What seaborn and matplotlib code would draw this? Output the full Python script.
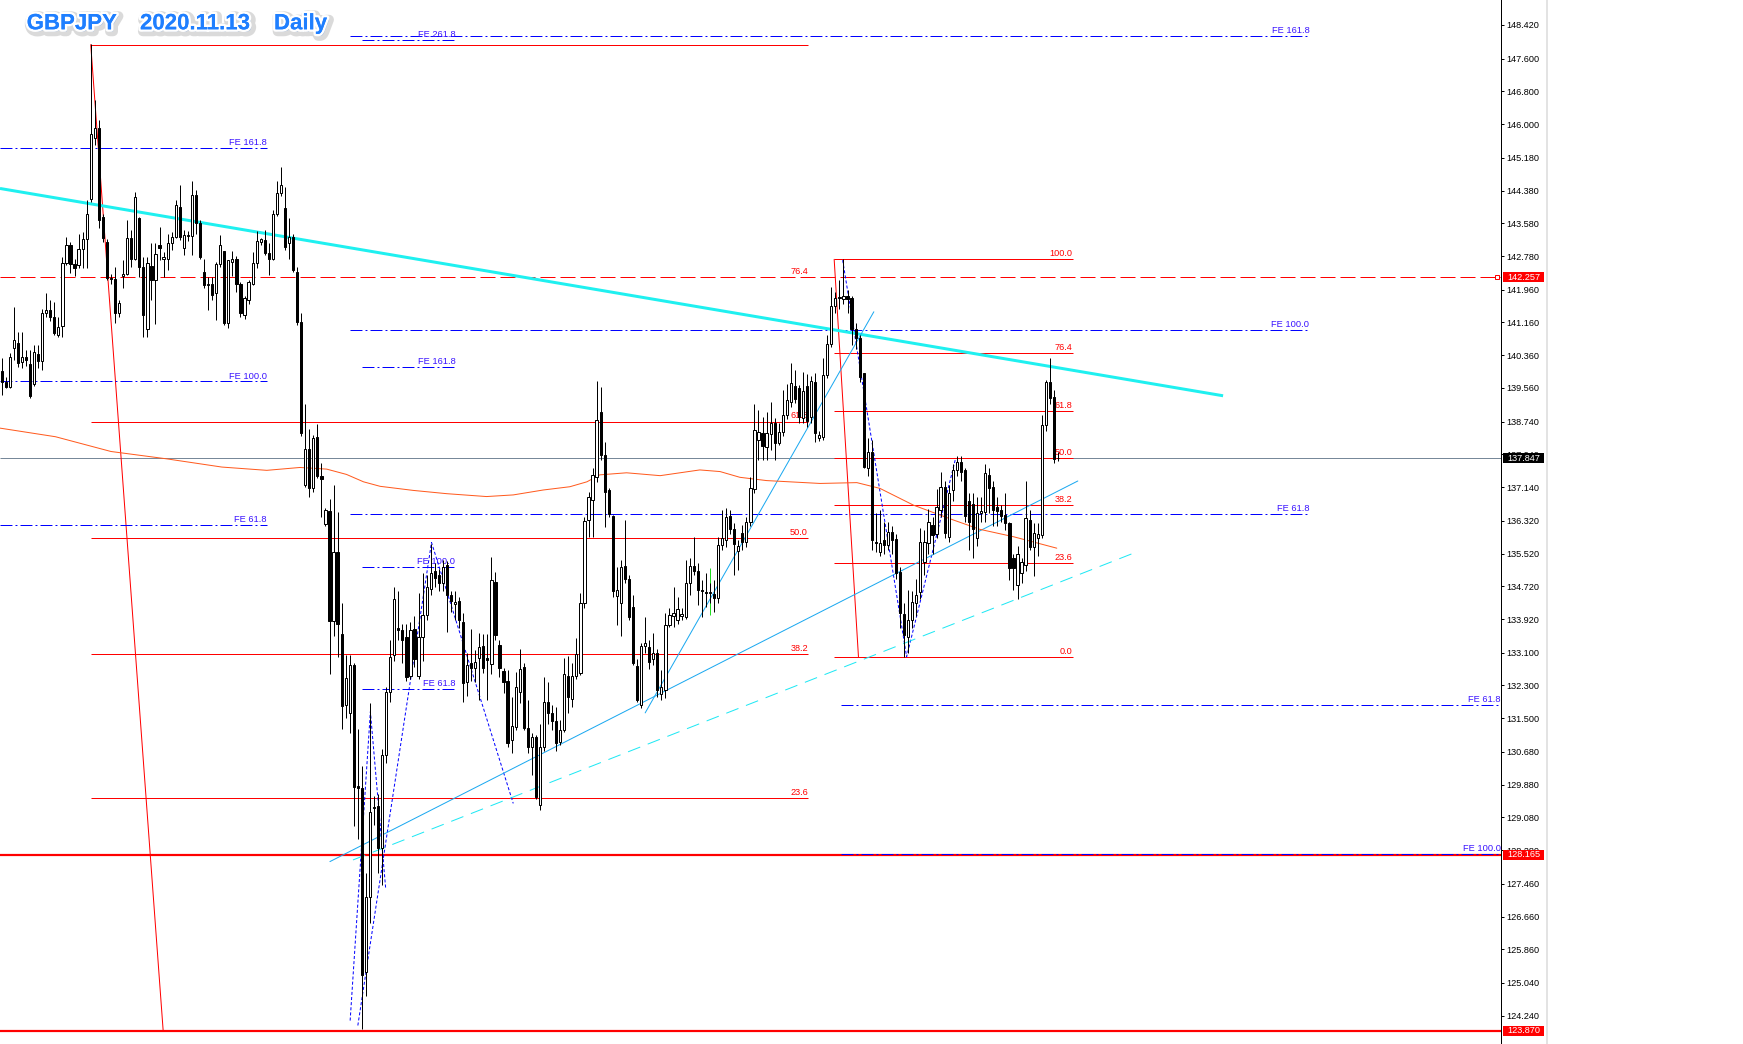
import numpy as np
import pandas as pd
import seaborn as sns
import matplotlib.pyplot as plt
import matplotlib.patheffects as pe
from matplotlib.patches import Rectangle
from matplotlib.lines import Line2D
from matplotlib.transforms import blended_transform_factory

# ---- daily candles GBPJPY ----
opens = [
    139.98, 139.71, 139.59, 140.54, 140.67, 140.20, 140.31, 140.14, 139.65, 140.40,
    140.23, 141.38, 141.46, 141.30, 140.85, 141.08, 142.60, 143.05, 142.58, 142.55,
    142.95, 143.19, 144.17, 145.65, 145.90, 143.74, 143.13, 142.24, 142.21, 141.38,
    142.30, 142.34, 143.21, 142.72, 143.70, 142.52, 140.99, 142.54, 142.19, 143.05,
    142.72, 142.72, 143.09, 143.25, 143.97, 142.97, 143.28, 143.28, 144.27, 143.58,
    142.40, 142.07, 142.09, 141.87, 142.58, 142.90, 141.14, 142.64, 142.72, 142.11,
    141.34, 141.71, 142.11, 142.60, 143.12, 143.17, 142.85, 142.72, 143.81, 144.31,
    143.95, 143.09, 143.25, 142.40, 141.16, 137.19, 138.06, 137.13, 138.36, 137.41,
    136.24, 136.56, 133.88, 135.56, 133.55, 131.83, 131.63, 132.80, 129.84, 129.79,
    125.31, 127.13, 129.34, 129.36, 128.34, 130.59, 132.13, 133.05, 133.70, 133.65,
    133.47, 132.53, 133.67, 132.53, 133.47, 134.03, 134.66, 135.10, 135.00, 134.80,
    135.25, 134.50, 134.28, 134.35, 133.84, 132.39, 132.84, 132.72, 132.96, 133.26,
    132.96, 132.82, 134.83, 133.29, 132.64, 132.41, 130.98, 131.29, 132.15, 132.74,
    131.25, 130.80, 131.05, 129.38, 130.80, 131.90, 131.62, 131.43, 130.93, 131.21,
    132.53, 131.98, 132.53, 132.61, 134.30, 136.34, 136.82, 137.39, 138.98, 137.92,
    137.07, 136.44, 134.48, 134.30, 135.21, 134.89, 134.21, 132.77, 131.82, 133.26,
    133.23, 132.94, 133.08, 132.10, 132.20, 133.77, 134.00, 133.90, 134.00, 133.97,
    134.81, 135.21, 135.10, 134.63, 134.57, 134.55, 134.53, 134.43, 135.73, 135.85,
    136.44, 136.11, 135.59, 136.01, 135.81, 136.30, 137.09, 138.29, 138.47, 138.13,
    138.44, 138.71, 138.21, 138.49, 138.90, 139.22, 139.62, 139.55, 138.82, 139.60,
    138.85, 139.71, 138.33, 138.37, 139.87, 140.63, 141.56, 141.75, 141.72, 141.80,
    141.75, 141.00, 140.77, 139.92, 137.60, 138.00, 135.81, 135.56, 135.85, 135.73,
    136.05, 135.87, 135.08, 134.04, 133.49, 133.90, 134.30, 134.59, 135.32, 135.77,
    136.22, 136.00, 136.58, 137.15, 135.93, 137.07, 137.56, 137.76, 137.56, 136.79,
    136.74, 135.89, 136.52, 136.54, 137.44, 137.15, 136.66, 136.58, 136.46, 136.26,
    135.40, 134.75, 135.04, 135.24, 136.34, 135.69, 135.89, 135.97, 138.66, 139.71,
    139.35, 137.84]
highs = [
    140.28, 139.83, 140.41, 141.54, 140.93, 140.93, 140.49, 140.49, 140.60, 140.60,
    141.50, 141.87, 141.70, 141.66, 141.30, 142.76, 143.25, 143.13, 142.70, 143.33,
    143.37, 144.15, 147.96, 146.60, 146.10, 143.80, 143.20, 142.34, 142.52, 141.70,
    142.68, 143.66, 143.41, 144.35, 143.74, 142.76, 142.76, 143.09, 143.09, 143.48,
    142.89, 143.33, 143.37, 144.15, 144.51, 143.41, 143.40, 144.61, 144.39, 143.66,
    142.72, 142.28, 142.28, 142.64, 143.29, 142.90, 142.68, 142.90, 142.77, 142.15,
    141.80, 142.20, 142.88, 143.40, 143.21, 143.41, 143.09, 143.90, 144.60, 144.95,
    144.47, 143.70, 143.33, 142.52, 141.40, 139.17, 138.55, 138.41, 138.68, 137.72,
    136.62, 136.86, 137.18, 136.54, 134.30, 133.05, 133.05, 132.85, 131.24, 130.34,
    127.73, 131.87, 129.60, 129.64, 130.74, 132.25, 133.40, 134.70, 134.60, 133.80,
    133.80, 133.85, 134.00, 134.55, 135.05, 135.00, 135.76, 135.30, 135.15, 135.35,
    135.33, 134.60, 134.60, 134.45, 134.06, 133.08, 133.67, 133.16, 133.57, 133.55,
    133.55, 135.44, 135.08, 133.42, 132.72, 132.67, 132.02, 132.63, 133.18, 132.84,
    131.94, 131.13, 131.09, 131.37, 132.51, 132.39, 131.82, 131.78, 131.45, 132.96,
    133.02, 132.84, 133.45, 134.55, 136.42, 137.03, 137.60, 139.74, 139.59, 138.25,
    137.11, 136.46, 135.20, 135.36, 136.34, 135.00, 134.50, 132.95, 133.33, 133.96,
    133.41, 133.58, 133.18, 132.68, 134.06, 134.18, 134.71, 134.46, 134.20, 135.36,
    135.40, 135.93, 135.28, 134.87, 135.04, 134.80, 134.87, 135.93, 136.58, 136.62,
    136.58, 136.26, 135.85, 136.22, 136.42, 137.39, 139.18, 139.02, 138.86, 138.98,
    139.22, 138.82, 138.70, 139.51, 139.66, 140.18, 140.00, 139.63, 139.96, 139.90,
    139.85, 139.92, 138.50, 140.30, 140.85, 142.03, 141.90, 142.20, 142.70, 141.95,
    141.80, 141.15, 140.85, 139.92, 138.33, 138.30, 136.50, 136.58, 136.30, 136.30,
    136.20, 136.00, 135.20, 134.30, 134.63, 134.60, 134.90, 136.15, 136.10, 136.60,
    136.40, 137.10, 137.50, 137.30, 137.20, 137.70, 137.90, 137.90, 137.60, 137.00,
    137.00, 136.90, 136.90, 137.70, 137.60, 137.30, 136.90, 136.70, 136.99, 136.30,
    135.50, 135.70, 135.40, 137.30, 136.58, 136.26, 136.26, 138.90, 139.75, 140.30,
    139.50, 138.00]
lows = [
    139.39, 139.55, 139.55, 140.24, 140.08, 140.04, 140.10, 139.31, 139.60, 140.04,
    140.00, 141.30, 141.20, 140.85, 140.81, 140.81, 142.56, 142.36, 142.30, 142.48,
    142.50, 142.48, 144.10, 145.50, 143.46, 143.13, 142.19, 142.10, 141.14, 141.30,
    141.99, 142.32, 142.52, 142.68, 142.28, 140.81, 140.81, 141.71, 141.12, 142.68,
    142.28, 142.44, 142.93, 143.21, 143.17, 142.80, 143.15, 142.80, 143.33, 142.72,
    141.99, 141.46, 141.71, 141.22, 142.52, 141.10, 141.02, 142.30, 141.90, 141.30,
    141.25, 141.60, 142.07, 142.50, 143.05, 142.80, 142.32, 142.68, 143.75, 144.25,
    142.93, 142.70, 142.40, 141.10, 138.40, 137.15, 136.91, 137.03, 137.36, 136.41,
    136.20, 132.57, 133.50, 133.00, 131.24, 131.50, 131.15, 128.86, 128.54, 123.92,
    124.71, 126.50, 128.90, 127.73, 127.43, 130.40, 131.90, 132.90, 133.40, 132.85,
    132.40, 132.45, 132.75, 132.45, 132.90, 133.90, 134.50, 134.70, 134.60, 134.60,
    133.60, 134.10, 133.90, 133.70, 131.90, 132.03, 132.40, 132.39, 131.95, 132.60,
    131.95, 132.59, 133.40, 132.50, 132.11, 130.80, 130.64, 131.20, 131.86, 131.21,
    130.64, 130.11, 129.54, 129.27, 130.70, 131.37, 131.21, 130.71, 130.85, 131.17,
    131.62, 131.78, 132.45, 132.55, 134.20, 135.93, 135.93, 137.27, 137.80, 136.17,
    136.42, 134.45, 133.77, 133.51, 134.80, 133.90, 132.80, 131.90, 131.74, 133.10,
    132.70, 132.80, 132.02, 131.95, 132.00, 133.73, 133.73, 133.81, 133.90, 133.93,
    134.51, 135.00, 134.26, 133.98, 134.22, 134.30, 134.10, 134.30, 135.60, 135.69,
    136.00, 135.00, 135.12, 135.60, 135.69, 136.20, 137.00, 137.80, 137.80, 137.80,
    138.05, 137.80, 138.17, 138.40, 138.80, 139.10, 139.20, 138.70, 138.70, 138.60,
    138.70, 138.25, 138.27, 138.29, 139.80, 140.55, 141.40, 141.50, 141.60, 141.40,
    140.60, 140.50, 139.70, 137.60, 137.40, 135.60, 135.55, 135.45, 135.50, 135.60,
    135.50, 134.90, 133.70, 133.00, 133.08, 133.70, 134.00, 134.40, 135.00, 135.50,
    135.50, 135.90, 136.40, 135.90, 135.80, 136.80, 137.40, 137.30, 136.30, 135.60,
    135.40, 135.70, 136.30, 136.30, 136.50, 136.20, 136.20, 136.30, 136.10, 134.88,
    134.63, 134.42, 134.80, 135.10, 135.60, 134.98, 135.45, 135.90, 138.50, 139.18,
    137.72, 137.78]
closes = [
    139.71, 139.59, 140.31, 140.73, 140.16, 140.31, 140.25, 139.36, 140.43, 140.23,
    141.38, 141.46, 141.30, 140.91, 141.06, 142.60, 143.05, 142.58, 142.50, 142.95,
    143.19, 143.80, 145.75, 145.90, 143.66, 143.21, 142.24, 142.21, 141.38, 141.64,
    142.34, 143.21, 142.72, 144.23, 142.52, 141.34, 142.60, 142.19, 142.82, 142.98,
    142.76, 143.11, 143.25, 144.03, 143.24, 143.29, 143.29, 144.27, 143.58, 142.76,
    142.07, 142.11, 141.83, 142.58, 143.05, 141.14, 142.68, 142.70, 142.11, 141.38,
    141.75, 142.15, 142.60, 143.14, 143.19, 142.85, 142.72, 143.81, 144.31, 144.51,
    143.01, 143.25, 142.44, 141.16, 138.45, 138.06, 137.11, 138.34, 137.41, 137.33,
    136.58, 133.88, 135.56, 133.80, 131.80, 132.47, 132.80, 129.82, 129.79, 125.23,
    127.13, 129.21, 129.30, 128.34, 130.59, 132.13, 133.00, 134.42, 133.65, 133.42,
    132.50, 133.65, 132.95, 133.47, 134.03, 134.70, 135.05, 134.93, 134.80, 135.20,
    134.50, 134.35, 134.33, 133.90, 132.35, 132.80, 132.72, 132.86, 133.23, 132.72,
    132.92, 134.87, 133.53, 132.72, 132.39, 130.89, 131.31, 132.25, 132.69, 131.25,
    130.80, 131.05, 129.58, 130.80, 131.90, 131.62, 131.43, 130.89, 131.21, 132.59,
    132.01, 132.53, 133.07, 134.32, 136.32, 136.89, 137.43, 138.78, 137.92, 137.03,
    136.48, 134.61, 134.63, 135.18, 134.89, 133.98, 132.85, 131.94, 133.26, 133.33,
    132.88, 133.08, 132.20, 132.25, 133.77, 134.02, 134.06, 134.16, 134.05, 134.79,
    135.21, 135.10, 134.63, 134.60, 134.56, 134.56, 134.43, 135.73, 135.91, 136.42,
    136.11, 135.75, 135.70, 135.81, 136.30, 137.11, 138.53, 138.49, 138.14, 138.45,
    138.70, 138.21, 138.49, 138.90, 139.27, 139.67, 139.30, 138.86, 139.49, 138.75,
    139.74, 138.45, 138.41, 139.87, 140.63, 141.56, 141.75, 141.77, 141.80, 141.72,
    141.00, 140.77, 139.84, 137.64, 138.00, 135.85, 135.77, 135.77, 135.73, 136.05,
    135.85, 135.04, 134.07, 133.53, 133.90, 134.34, 134.51, 135.81, 135.81, 136.30,
    135.97, 136.66, 137.15, 136.01, 136.99, 137.56, 137.76, 137.52, 136.43, 136.30,
    136.13, 136.50, 136.56, 137.48, 137.11, 136.58, 136.56, 136.43, 136.26, 135.16,
    135.16, 135.52, 135.32, 136.38, 135.69, 136.01, 135.99, 138.66, 139.71, 139.31,
    137.82, 137.85]

# moving average read at some bars
ma_bar = [-0.4, 13.3, 27.0, 40.8, 54.4, 65.5, 73.7, 80.3, 85.2, 89.4, 93.5, 101.7,
          110.0, 119.8, 126.4, 133.8, 140.4, 144.6, 147.8, 154.4, 162.7, 172.5, 177.5,
          182.4, 189.0, 202.2, 211.3, 217.0, 225.3, 235.1, 241.7, 250.0, 260.7]
ma_price = [138.58, 138.37, 138.01, 137.83, 137.63, 137.55, 137.62, 137.58, 137.45,
            137.27, 137.16, 137.06, 136.98, 136.91, 136.95, 137.07, 137.15, 137.27,
            137.44, 137.49, 137.42, 137.56, 137.52, 137.38, 137.30, 137.23, 137.25,
            137.11, 136.70, 136.34, 136.11, 135.93, 135.65]

# price scale
tick_vals = [148.420, 147.600, 146.800, 146.000, 145.180, 144.380, 143.580, 142.780,
             141.960, 141.160, 140.360, 139.560, 138.740, 137.940, 137.140, 136.320,
             135.520, 134.720, 133.920, 133.100, 132.300, 131.500, 130.680, 129.880,
             129.080, 128.280, 127.460, 126.660, 125.860, 125.040, 124.240]
tag_prices = [142.257, 137.847, 128.165, 123.870]
tag_colors = ["#ff0000", "#000000", "#ff0000", "#ff0000"]

# fibonacci retracement 1 (Dec high -> Mar low)
fib1_levels = [147.94, 138.74, 135.90, 133.06, 129.55]
fib1_labels = ["", "61.8", "50.0", "38.2", "23.6"]
fib1_span = [22.0, 199.2]
fib1_diag_bar = [22.0, 39.9]
fib1_diag_price = [147.94, 123.87]
dashed_764 = 142.257

# fibonacci retracement 2 (Sep high -> Sep low)
fib2_levels = [142.70, 140.41, 138.99, 137.85, 136.71, 135.29, 133.00]
fib2_labels = ["100.0", "76.4", "61.8", "50.0", "38.2", "23.6", "0.0"]
fib2_span = [205.7, 264.6]
fib2_diag_bar = [205.7, 211.7]
fib2_diag_price = [142.70, 133.00]

# fibonacci expansion levels
fe_levels = [148.16, 140.97, 136.49, 148.05, 140.08, 135.19, 132.21,
             145.42, 139.72, 136.22, 131.83, 128.19]
fe_labels = ["FE 161.8", "FE 100.0", "FE 61.8", "FE 261.8", "FE 161.8", "FE 100.0",
             "FE 61.8", "FE 161.8", "FE 100.0", "FE 61.8", "FE 61.8", "FE 100.0"]
fe_start = [86.1, 86.1, 86.1, 89.0, 89.0, 89.0, 89.0, -0.42, -0.42, -0.42, 207.5, 207.5]
fe_end = [323.1, 323.1, 323.1, 112.1, 112.1, 112.1, 112.1, 65.5, 65.5, 65.5, 370.4, 370.4]

# expansion zigzags
zz_bars = [[86.1, 91.1, 94.9], [88.0, 106.2, 126.4], [207.8, 223.6, 235.6]]
zz_prices = [[124.12, 131.66, 127.32], [124.0, 135.79, 129.42], [142.68, 133.0, 137.80]]

# trend lines
thick_bar, thick_price = [-0.42, 301.8], [144.43, 139.37]
thin1_bar, thin1_price = [81.1, 265.9], [128.0, 137.29]
thin2_bar, thin2_price = [159.0, 215.5], [131.63, 141.42]
dash_bar, dash_price = [86.8, 281.0], [128.04, 135.58]
green_bar, green_low, green_high = 175.1, 134.02, 135.16

bid = 137.847
red_full = [128.165, 123.870]

# ---------------------------------------------------------------
sns.set_theme(style="white")
plt.rcParams['font.family'] = ['Liberation Sans', 'DejaVu Sans']
plt.rcParams['lines.scale_dashes'] = False

W, H = 1743, 1044
PX = 0.72
fig = plt.figure(figsize=(W / 100, H / 100), dpi=100)
fig.patch.set_facecolor('white')
ax = fig.add_axes([0, 0, 1501 / W, 1])
ax.set_facecolor('white')
XL, XR = -0.42, 370.47
ax.set_xlim(XL, XR)
ax.set_ylim(123.548, 149.03)

o = np.array(opens); c = np.array(closes)
h = np.maximum(np.array(highs), np.maximum(o, c))
l = np.minimum(np.array(lows), np.minimum(o, c))
idx = np.arange(len(c))

RED = '#ff0000'
BLUE = '#0000ff'
LBL_BLUE = '#3a14ff'

# bid line
ax.hlines(bid, XL, XR, color='#778899', lw=PX, zorder=1)

# fib 1
ax.hlines(fib1_levels, fib1_span[0], fib1_span[1], color=RED, lw=PX, zorder=2)
for lev, lab in zip(fib1_levels, fib1_labels):
    if lab:
        ax.text(fib1_span[1], lev + 0.03, lab, color=RED, fontsize=6.6, ha='right', va='bottom', zorder=2)
ax.plot(fib1_diag_bar, fib1_diag_price, color=RED, lw=PX, zorder=2)
ax.hlines(dashed_764, XL, XR, color=RED, lw=PX, linestyles=[(0, (10.8, 3.6))], zorder=2)
ax.text(fib1_span[1], dashed_764 + 0.03, "76.4", color=RED, fontsize=6.6, ha='right', va='bottom', zorder=2)
ax.hlines(red_full, XL, XR, color=RED, lw=2.2 * PX, zorder=2)

# fib 2
ax.hlines(fib2_levels, fib2_span[0], fib2_span[1], color=RED, lw=PX, zorder=2)
for lev, lab in zip(fib2_levels, fib2_labels):
    ax.text(fib2_span[1], lev + 0.03, lab, color=RED, fontsize=6.6, ha='right', va='bottom', zorder=2)
ax.plot(fib2_diag_bar, fib2_diag_price, color=RED, lw=PX, zorder=2)

# FE levels
for lev, lab, x0, x1 in zip(fe_levels, fe_labels, fe_start, fe_end):
    ax.hlines(lev, x0, x1, color=BLUE, lw=PX, linestyles=[(0, (8.6, 2.2, 1.4, 2.2))], zorder=3)
    ax.text(x1, lev + 0.02, lab, color=LBL_BLUE, fontsize=6.7, ha='right', va='bottom', zorder=3)
for zb, zp in zip(zz_bars, zz_prices):
    ax.plot(zb, zp, color=BLUE, lw=PX, ls=(0, (2.2, 1.5)), zorder=3)

# trend lines
ax.plot(thick_bar, thick_price, color='#1ff0f0', lw=3 * PX, solid_capstyle='butt', zorder=3)
ax.plot(thin1_bar, thin1_price, color='#1aa8f0', lw=PX, zorder=3)
ax.plot(thin2_bar, thin2_price, color='#1aa8f0', lw=PX, zorder=3)
ax.plot(dash_bar, dash_price, color='#1ee8f4', lw=PX, ls=(0, (9.4, 5.8)), zorder=3)
ax.vlines(green_bar, green_low, green_high, color='#22dd22', lw=PX, zorder=3)

# moving average
ma = pd.DataFrame({'bar': ma_bar, 'price': ma_price})
sns.lineplot(data=ma, x='bar', y='price', ax=ax, color='#ff5a1e', lw=PX, zorder=3,
             legend=False, estimator=None, sort=False)

# candles
ax.vlines(idx, l, h, color='black', lw=PX, zorder=6)
body = np.maximum(np.abs(c - o), 0.02)
ax.bar(idx, body, bottom=np.minimum(o, c), width=0.55,
       color=np.where(c >= o, 'white', 'black'), edgecolor='black', linewidth=PX, zorder=7)

# price scale
ax.set_xticks([])
ax.yaxis.tick_right()
ax.set_yticks(tick_vals)
ax.set_yticklabels([f"{v:.3f}" for v in tick_vals])
ax.tick_params(axis='y', direction='out', length=3 * PX, width=PX, pad=2 * PX,
               labelsize=6.6, colors='black')
ax.set_xlabel('')
ax.set_ylabel('')
for s in ['top', 'left', 'bottom']:
    ax.spines[s].set_visible(False)
ax.spines['right'].set_color('black')
ax.spines['right'].set_linewidth(PX)

tb = blended_transform_factory(fig.transFigure, ax.transData)
hh = 10 / 40.97
for price, col in zip(tag_prices, tag_colors):
    ax.add_patch(Rectangle((1503 / W, price - hh / 2), 41 / W, hh, transform=tb,
                           facecolor=col, edgecolor='none', clip_on=False, zorder=20))
    ax.text(1523.5 / W, price, f"{price:.3f}", transform=tb, color='white', fontsize=6.6,
            ha='center', va='center', zorder=21, clip_on=False)
ax.plot([369.4], [tag_prices[0]], marker='s', ms=3, mfc='white', mec=RED, mew=PX,
        clip_on=False, zorder=8)

fig.add_artist(Line2D([1547 / W, 1547 / W], [0, 1], color='#dadada', lw=1.5 * PX,
                      transform=fig.transFigure))

# title
effects = [pe.withStroke(linewidth=7, foreground='#bdbdbd', alpha=0.55, offset=(1.5, -1.5)),
           pe.withStroke(linewidth=3.5, foreground='white'), pe.Normal()]
for txt, xp in [("GBPJPY", 26.7), ("2020.11.13", 140), ("Daily", 274)]:
    fig.text(xp / W, 1 - 29.3 / H, txt, fontsize=16, fontweight='bold', color='#1f7fff',
             ha='left', va='baseline', path_effects=effects)

fig.savefig('out.png', dpi=100, facecolor='white')
